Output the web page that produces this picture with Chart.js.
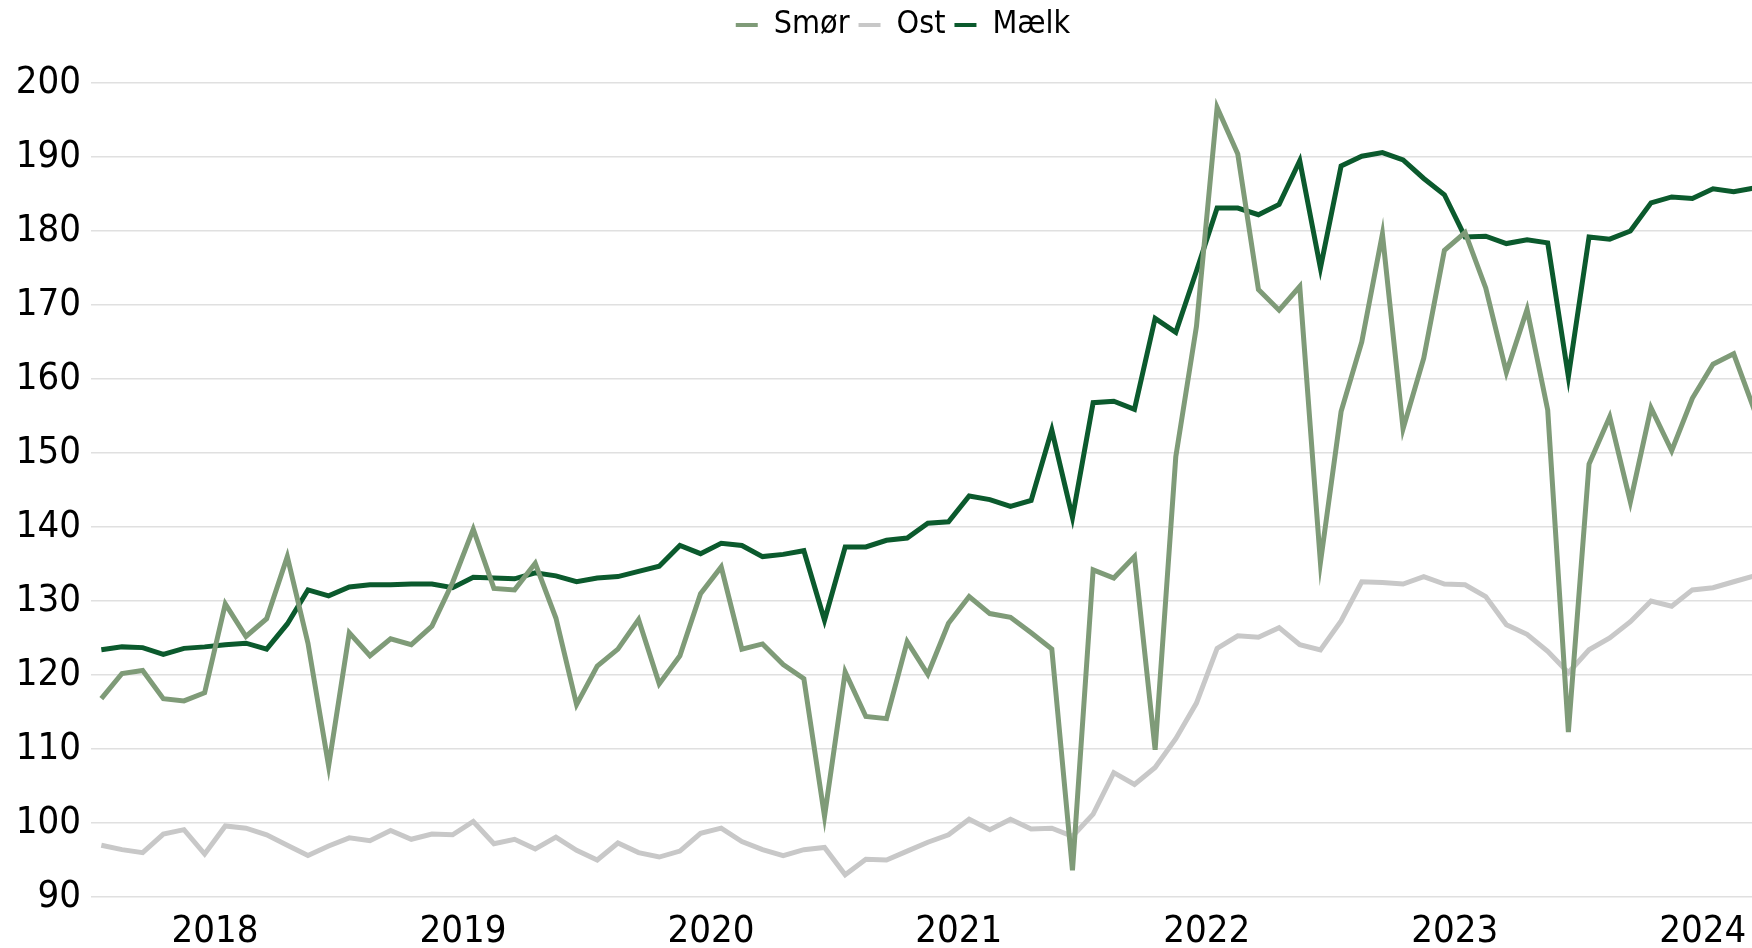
<!DOCTYPE html>
<html>
<head>
<meta charset="utf-8">
<script src="https://cdn.jsdelivr.net/npm/chart.js@4.4.1/dist/chart.umd.min.js"></script>
<style>
html, body { margin: 0; padding: 0; overflow: hidden; background: #ffffff; }
#wrap { width: 1806px; height: 948px; position: relative; }
</style>
</head>
<body>
<div id="wrap"><canvas id="c"></canvas></div>
<script>
// Monthly categories Jan 2018 .. Sep 2024 (index 0..80)
const firstYear = 2018;
const months = [];
for (let i = 0; i < 81; i++) {
  months.push((firstYear + Math.floor(i / 12)) + '-' + String(i % 12 + 1).padStart(2, '0'));
}
const yearLabels = ['2018', '2019', '2020', '2021', '2022', '2023', '2024'];

const smor = [116.8,120.2,120.6,116.8,116.5,117.6,129.6,125.2,127.6,136.0,
  124.3,107.7,125.7,122.6,124.9,124.1,126.6,132.5,139.7,131.7,
  131.5,135.1,127.7,116.0,121.2,123.5,127.5,118.8,122.6,131.0,
  134.6,123.5,124.2,121.4,119.5,100.9,120.4,114.4,114.1,124.5,
  120.1,127.0,130.6,128.3,127.8,125.7,123.5,93.6,134.2,133.1,
  136.0,109.9,149.5,167.1,196.7,190.4,172.1,169.3,172.5,135.2,
  155.6,165.0,179.6,153.3,162.8,177.4,179.8,172.3,160.9,169.4,
  155.8,112.3,148.5,154.9,143.4,156.1,150.3,157.4,162.0,163.4,155.8];

const ost = [97.0,96.4,96.0,98.5,99.1,95.8,99.6,99.3,98.4,97.0,
  95.6,96.9,98.0,97.6,99.0,97.8,98.5,98.4,100.2,97.2,
  97.8,96.5,98.1,96.3,95.0,97.3,96.0,95.4,96.2,98.6,
  99.3,97.5,96.4,95.6,96.4,96.7,93.0,95.1,95.0,96.2,
  97.4,98.4,100.5,99.1,100.5,99.2,99.3,98.2,101.2,106.8,
  105.2,107.5,111.4,116.2,123.6,125.3,125.1,126.4,124.1,123.4,
  127.3,132.6,132.5,132.3,133.3,132.3,132.2,130.6,126.8,125.5,
  123.2,120.3,123.4,125.0,127.2,130.0,129.3,131.5,131.8,132.6,133.4];

const malk = [123.4,123.8,123.7,122.8,123.6,123.8,124.1,124.3,123.5,126.9,
  131.5,130.7,131.9,132.2,132.2,132.3,132.3,131.8,133.2,133.1,
  133.0,133.8,133.4,132.6,133.1,133.3,134.0,134.7,137.5,136.4,
  137.8,137.5,136.0,136.3,136.8,127.4,137.3,137.3,138.2,138.5,
  140.5,140.7,144.2,143.7,142.8,143.6,153.1,141.3,156.8,157.0,
  155.9,168.2,166.3,174.6,183.1,183.1,182.2,183.6,189.5,175.0,
  188.8,190.1,190.6,189.6,187.1,184.9,179.2,179.3,178.3,178.8,
  178.4,160.3,179.2,178.9,180.0,183.8,184.6,184.4,185.7,185.3,185.8];

const FONT = "'DejaVu Sans Condensed', 'DejaVu Sans', sans-serif";
const toXY = arr => arr.map((v, i) => ({ x: i, y: v }));

// keep the legend band a fixed height so the plot starts where the reference does
const legendBand = {
  id: 'legendBand',
  beforeUpdate(chart) {
    const lg = chart.legend;
    if (lg && !lg._bandPatched) {
      const origFit = lg.fit.bind(lg);
      lg.fit = function () { origFit(); this.height = 83; };
      lg._bandPatched = true;
    }
  }
};

new Chart(document.getElementById('c'), {
  type: 'line',
  data: {
    labels: months,
    datasets: [
      { label: 'Smør', data: toXY(smor), borderColor: '#7f9b78', backgroundColor: '#7f9b78', borderWidth: 5, pointRadius: 0, tension: 0 },
      { label: 'Ost', data: toXY(ost), borderColor: '#c8c8c8', backgroundColor: '#c8c8c8', borderWidth: 5, pointRadius: 0, tension: 0 },
      { label: 'Mælk', data: toXY(malk), borderColor: '#0b5a2d', backgroundColor: '#0b5a2d', borderWidth: 5, pointRadius: 0, tension: 0 }
    ]
  },
  plugins: [legendBand],
  options: {
    responsive: true,
    maintainAspectRatio: false,
    animation: false,
    events: [],
    layout: { padding: { top: 0, left: 0, right: 0, bottom: 0 } },
    plugins: {
      tooltip: { enabled: false },
      legend: {
        position: 'top',
        labels: {
          font: { family: FONT, size: 32 },
          color: '#000000',
          boxWidth: 22,
          boxHeight: 4,
          padding: 9,
          generateLabels: (chart) => Chart.defaults.plugins.legend.labels.generateLabels(chart)
            .map(l => Object.assign(l, { lineWidth: 0, fillStyle: l.strokeStyle }))
        }
      }
    },
    scales: {
      x: {
        type: 'linear',
        min: -0.5,
        max: 82.5,
        grid: { display: false },
        border: { display: false },
        afterBuildTicks: (scale) => {
          scale.ticks = yearLabels.map((y, k) => ({ value: 5.5 + 12 * k }));
        },
        afterFit: (scale) => { scale.height = 51; },
        ticks: {
          autoSkip: false,
          maxRotation: 0,
          padding: 4,
          color: '#000000',
          font: { family: FONT, size: 38 },
          callback: (value, index) => yearLabels[index]
        }
      },
      y: {
        min: 90,
        max: 200,
        afterFit: (scale) => { scale.width = 91; },
        grid: { color: '#e0e0e0', lineWidth: 1.5, drawTicks: false },
        border: { display: false },
        ticks: {
          stepSize: 10,
          padding: 10,
          color: '#000000',
          font: { family: FONT, size: 38 }
        }
      }
    }
  }
});
</script>
</body>
</html>
